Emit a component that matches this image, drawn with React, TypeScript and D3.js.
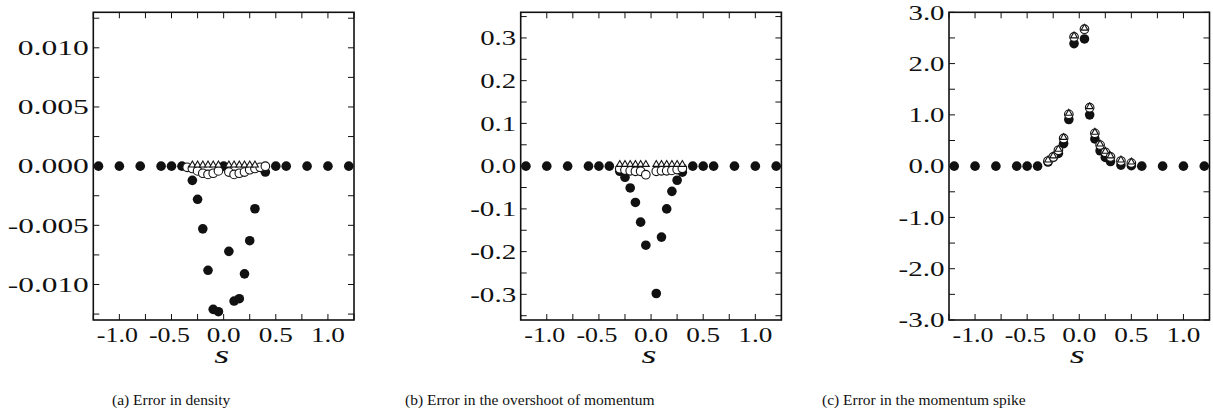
import React from "react";
import * as d3 from "d3";

// Mesh nodes in s (refined around the origin)
const sNodes = [-1.2, -1.0, -0.8, -0.6, -0.5, -0.4, -0.3, -0.25, -0.2, -0.15, -0.1, -0.05, 0, 0.05, 0.1, 0.15, 0.2, 0.25, 0.3, 0.4, 0.5, 0.6, 0.8, 1.0, 1.2];
const sNodesNoOrigin = [-1.2, -1.0, -0.8, -0.6, -0.5, -0.4, -0.3, -0.25, -0.2, -0.15, -0.1, -0.05, 0.05, 0.1, 0.15, 0.2, 0.25, 0.3, 0.4, 0.5, 0.6, 0.8, 1.0, 1.2];

// (a) density error
const densityFilled = [0, 0, 0, 0, 0, 0, -0.0012, -0.0028, -0.0053, -0.0088, -0.0121, -0.0123, 0, -0.0072, -0.0114, -0.0112, -0.0091, -0.0063, -0.0036, -0.0005, 0, 0, 0, 0, 0];
const densityRingS = [-0.35, -0.3, -0.25, -0.2, -0.15, -0.1, -0.05, 0.05, 0.1, 0.15, 0.2, 0.25, 0.3, 0.35, 0.4];
const densityRing = [-0.0001, -0.0002, -0.0004, -0.0006, -0.0007, -0.0006, -0.0004, -0.0005, -0.0007, -0.0006, -0.0005, -0.0003, -0.0002, -0.0001, 0.0];
const densityTriS = [-0.3, -0.25, -0.2, -0.15, -0.1, -0.05, 0.05, 0.1, 0.15, 0.2, 0.25, 0.3];
const densityTri = [0.0001, 0.0001, 0.0001, 0.0001, 0.0001, 0.0001, 0.0001, 0.0001, 0.0001, 0.0001, 0.0001, 0.0001];
const densityTicks = [-0.01, -0.005, 0, 0.005, 0.01];
const densityTickLabels = ["-0.010", "-0.005", "0.000", "0.005", "0.010"];

// (b) overshoot of momentum error
const overshootFilled = [0, 0, 0, 0, 0, 0, -0.012, -0.026, -0.051, -0.085, -0.131, -0.185, -0.298, -0.166, -0.1, -0.059, -0.033, -0.014, 0, 0, 0, 0, 0, 0];
const overshootRingS = [-0.3, -0.25, -0.2, -0.15, -0.1, -0.05, 0.05, 0.1, 0.15, 0.2, 0.25, 0.3];
const overshootRing = [-0.006, -0.009, -0.011, -0.012, -0.012, -0.02, -0.012, -0.011, -0.011, -0.01, -0.008, -0.005];
const overshootTriS = [-0.3, -0.25, -0.2, -0.15, -0.1, -0.05, 0.05, 0.1, 0.15, 0.2, 0.25, 0.3];
const overshootTri = [0.004, 0.004, 0.004, 0.004, 0.004, 0.004, 0.004, 0.004, 0.004, 0.004, 0.004, 0.004];
const overshootTicks = [-0.3, -0.2, -0.1, 0, 0.1, 0.2, 0.3];
const overshootTickLabels = ["-0.3", "-0.2", "-0.1", "0.0", "0.1", "0.2", "0.3"];

// (c) momentum spike error
const spikeFilled = [0, 0, 0, 0, 0, 0, 0.08, 0.17, 0.25, 0.44, 0.91, 2.39, 2.48, 1.0, 0.53, 0.3, 0.17, 0.09, 0.02, 0.01, 0, 0, 0, 0];
const spikeOpenS = [-0.3, -0.25, -0.2, -0.15, -0.1, -0.05, 0.05, 0.1, 0.15, 0.2, 0.25, 0.3, 0.4, 0.5];
const spikeRing = [0.1, 0.18, 0.31, 0.54, 1.01, 2.52, 2.67, 1.14, 0.64, 0.41, 0.27, 0.18, 0.1, 0.06];
const spikeTri = [0.12, 0.2, 0.33, 0.56, 1.03, 2.54, 2.69, 1.16, 0.66, 0.43, 0.29, 0.2, 0.12, 0.08];
const spikeTicks = [-3, -2, -1, 0, 1, 2, 3];
const spikeTickLabels = ["-3.0", "-2.0", "-1.0", "0.0", "1.0", "2.0", "3.0"];

const sTicks = [-1.0, -0.5, 0.0, 0.5, 1.0];
const sTickLabels = ["-1.0", "-0.5", "0.0", "0.5", "1.0"];

const captions = ["(a) Error in density", "(b) Error in the overshoot of momentum", "(c) Error in the momentum spike"];

const FONT = "'Liberation Serif', 'DejaVu Serif', serif";
const TOP = 12.3;
const BOTTOM = 320;
const TICK_LEN = 6;
const INK = "#111";

type Panel = {
  left: number;
  right: number;
  yDomain: [number, number];
  yMinorStep: number;
  yTicks: number[];
  yLabels: string[];
  posW: number;
  negW: number;
  filledS: number[];
  filled: number[];
  ringS: number[];
  ring: number[];
  triS: number[];
  tri: number[];
  caption: string;
  capX: number;
};

const panels: Panel[] = [
  {
    left: 93.3, right: 354, yDomain: [-0.013, 0.013], yMinorStep: 0.0025,
    yTicks: densityTicks, yLabels: densityTickLabels, posW: 71, negW: 81,
    filledS: sNodes, filled: densityFilled, ringS: densityRingS, ring: densityRing,
    triS: densityTriS, tri: densityTri, caption: captions[0], capX: 112,
  },
  {
    left: 520.7, right: 781.4, yDomain: [-0.36, 0.36], yMinorStep: 0.05,
    yTicks: overshootTicks, yLabels: overshootTickLabels, posW: 36, negW: 46,
    filledS: sNodesNoOrigin, filled: overshootFilled, ringS: overshootRingS, ring: overshootRing,
    triS: overshootTriS, tri: overshootTri, caption: captions[1], capX: 405,
  },
  {
    left: 949, right: 1209.5, yDomain: [-3, 3], yMinorStep: 0.5,
    yTicks: spikeTicks, yLabels: spikeTickLabels, posW: 36, negW: 46,
    filledS: sNodesNoOrigin, filled: spikeFilled, ringS: spikeOpenS, ring: spikeRing,
    triS: spikeOpenS, tri: spikeTri, caption: captions[2], capX: 822,
  },
];

const triPath = d3.symbol().type(d3.symbolTriangle).size(20)() as string;

function PanelView({ p }: { p: Panel }) {
  const x = d3.scaleLinear().domain([-1.25, 1.25]).range([p.left, p.right]);
  const y = d3.scaleLinear().domain(p.yDomain).range([BOTTOM, TOP]);
  const eps = 1e-9;
  const xMinor = d3.range(-1.25, 1.25 + eps, 0.25);
  const yStart = Math.ceil((p.yDomain[0] - eps) / p.yMinorStep) * p.yMinorStep;
  const yMinor = d3.range(yStart, p.yDomain[1] + eps, p.yMinorStep);
  const cx = (p.left + p.right) / 2;

  return (
    <g>
      {/* tick marks on all four sides, pointing inward */}
      {xMinor.map((v, i) => (
        <g key={"xt" + i} stroke={INK} strokeWidth={1}>
          <line x1={x(v)} x2={x(v)} y1={BOTTOM} y2={BOTTOM - TICK_LEN} />
          <line x1={x(v)} x2={x(v)} y1={TOP} y2={TOP + TICK_LEN} />
        </g>
      ))}
      {yMinor.map((v, i) => (
        <g key={"yt" + i} stroke={INK} strokeWidth={1}>
          <line x1={p.left} x2={p.left + TICK_LEN} y1={y(v)} y2={y(v)} />
          <line x1={p.right} x2={p.right - TICK_LEN} y1={y(v)} y2={y(v)} />
        </g>
      ))}

      {/* markers: filled circles, then open circles, then open triangles */}
      {p.filledS.map((s, i) => (
        <circle key={"f" + i} cx={x(s)} cy={y(p.filled[i])} r={4.8} fill={INK} />
      ))}
      {p.ringS.map((s, i) => (
        <circle key={"o" + i} cx={x(s)} cy={y(p.ring[i])} r={4.3} fill="#fff" stroke={INK} strokeWidth={1.1} />
      ))}
      {p.triS.map((s, i) => (
        <path key={"t" + i} d={triPath} transform={`translate(${x(s)},${y(p.tri[i])})`} fill="#fff" stroke={INK} strokeWidth={1.1} />
      ))}

      <rect x={p.left} y={TOP} width={p.right - p.left} height={BOTTOM - TOP} fill="none" stroke={INK} strokeWidth={1.6} />

      {/* tick labels */}
      {p.yTicks.map((v, i) => (
        <text
          key={"yl" + i}
          x={p.left - 4.5}
          y={y(v) + 7.2}
          textAnchor="end"
          fontSize={21}
          fontFamily={FONT}
          fill={INK}
          textLength={p.yLabels[i].startsWith("-") ? p.negW : p.posW}
          lengthAdjust="spacingAndGlyphs"
        >
          {p.yLabels[i]}
        </text>
      ))}
      {sTicks.map((v, i) => (
        <text
          key={"xl" + i}
          x={x(v) - (sTickLabels[i].startsWith("-") ? 2 : 0)}
          y={342}
          textAnchor="middle"
          fontSize={21}
          fontFamily={FONT}
          fill={INK}
          textLength={sTickLabels[i].startsWith("-") ? 41 : 34}
          lengthAdjust="spacingAndGlyphs"
        >
          {sTickLabels[i]}
        </text>
      ))}
      <text
        x={cx - 2}
        y={363}
        textAnchor="middle"
        fontSize={25}
        fontStyle="italic"
        fontFamily={FONT}
        fill={INK}
        textLength={15}
        lengthAdjust="spacingAndGlyphs"
      >
        s
      </text>

      <text x={p.capX} y={405} fontSize={15.5} fontFamily={FONT} fill={INK}>
        {p.caption}
      </text>
    </g>
  );
}

export default function App() {
  return (
    <svg width={1213} height={415} style={{ position: "absolute", left: 0, top: 0, background: "#fff" }}>
      <rect width={1213} height={415} fill="#fff" />
      {panels.map((p, i) => (
        <PanelView key={i} p={p} />
      ))}
    </svg>
  );
}
